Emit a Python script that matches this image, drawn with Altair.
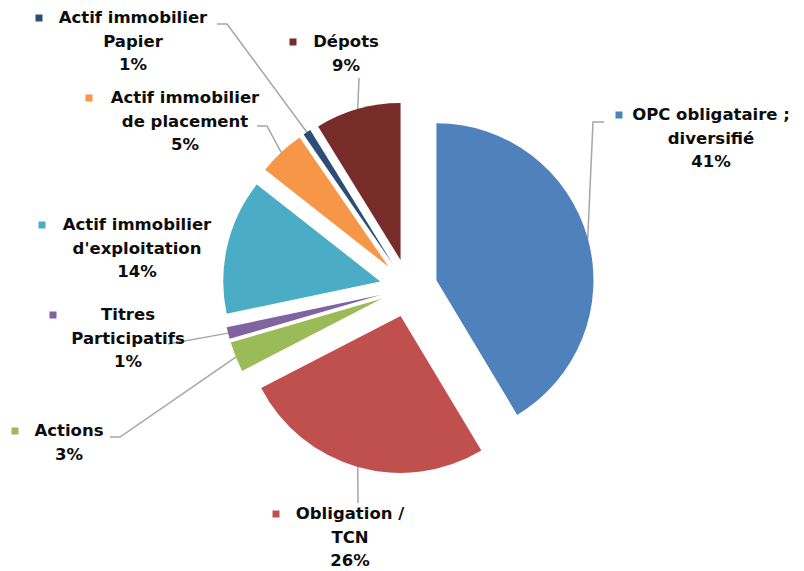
import altair as alt
import pandas as pd
import numpy as np

# ---------------- data ----------------
categories = [
    "OPC obligataire ; diversifié",
    "Obligation / TCN",
    "Actions",
    "Titres Participatifs",
    "Actif immobilier d'exploitation",
    "Actif immobilier de placement",
    "Actif immobilier Papier",
    "Dépots",
]
shares = [41.4, 26.0, 3.1, 1.2, 13.9, 4.8, 0.8, 8.8]
colors = ["#4F81BD", "#C0504D", "#9BBB59", "#8064A2", "#4BACC6", "#F79646", "#2C4D75", "#772C2A"]
label_lines = [
    ["OPC obligataire ;", "diversifié"],
    ["Obligation /", "TCN"],
    ["Actions"],
    ["Titres", "Participatifs"],
    ["Actif immobilier", "d'exploitation"],
    ["Actif immobilier", "de placement"],
    ["Actif immobilier", "Papier"],
    ["Dépots"],
]

# ---------------- layout (page pixel coordinates) ----------------
W, H, M = 788, 563, 8
PIE_CX, PIE_CY, R, EXPLODE = 408.5, 288.0, 157, 29
label_cx = [711, 350, 69, 128, 137, 185, 133, 346]
label_y0 = [115, 514, 431, 315, 225, 98, 18, 42]
marker_x = [619, 276, 15, 53, 42, 89, 39, 293]
leader_bends = [
    [(593, 122), (604, 122)],
    [(358, 503)],
    [(120, 437), (110, 437)],
    [(168, 344)],
    [],
    [(267, 126), (257, 126)],
    [(227, 24), (217, 24)],
    [(359, 78)],
]
LINE_H = 23.5

# ---------------- derived tables ----------------
vals = np.array(shares)
end = np.cumsum(vals)
start = end - vals
mid = (start + end) / 2 / 100 * 2 * np.pi
cx = PIE_CX + EXPLODE * np.sin(mid) - M
cy = PIE_CY - EXPLODE * np.cos(mid) - M

slices = pd.DataFrame({
    "category": categories, "value": vals, "start": start, "end": end,
    "cx": cx, "cy": cy,
})

rows = []
for i, cat in enumerate(categories):
    lines = label_lines[i] + [f"{round(shares[i]):.0f}%"]
    for j, t in enumerate(lines):
        rows.append({"category": cat, "text": t, "x": label_cx[i] - M,
                     "y": label_y0[i] + j * LINE_H - M})
labels = pd.DataFrame(rows)

markers = pd.DataFrame({"category": categories,
                        "x": [m - M for m in marker_x],
                        "y": [y - M for y in label_y0]})

lrows = []
for i, cat in enumerate(categories):
    if not leader_bends[i]:
        continue
    ex = cx[i] + R * np.sin(mid[i])
    ey = cy[i] - R * np.cos(mid[i])
    pts = [(ex, ey)] + [(px - M, py - M) for px, py in leader_bends[i]]
    for k, (px, py) in enumerate(pts):
        lrows.append({"category": cat, "seq": k, "x": px, "y": py})
leaders = pd.DataFrame(lrows)

color = alt.Color("category:N", scale=alt.Scale(domain=categories, range=colors), legend=None)

arcs = alt.Chart(slices).mark_arc(radius=R).encode(
    theta=alt.Theta("start:Q", scale=alt.Scale(domain=[0, 100], range=[0, 2 * np.pi]), stack=None),
    theta2="end:Q",
    x=alt.X("cx:Q", scale=None),
    y=alt.Y("cy:Q", scale=None),
    color=color,
)

lead = alt.Chart(leaders).mark_line(color="#A6A6A6", strokeWidth=1.5).encode(
    x=alt.X("x:Q", scale=None),
    y=alt.Y("y:Q", scale=None),
    detail="category:N",
    order="seq:Q",
)

text = alt.Chart(labels).mark_text(
    font="DejaVu Sans", fontWeight="bold", fontSize=16.5, align="center",
    baseline="middle", color="#0d0d0d",
).encode(
    x=alt.X("x:Q", scale=None),
    y=alt.Y("y:Q", scale=None),
    text="text:N",
)

squares = alt.Chart(markers).mark_square(size=49, opacity=1).encode(
    x=alt.X("x:Q", scale=None),
    y=alt.Y("y:Q", scale=None),
    color=color,
)

chart = alt.layer(lead, arcs, text, squares).properties(
    width=W, height=H, padding=0, autosize=alt.AutoSizeParams(type="none"),
).configure_view(stroke=None)

chart.save("out.html", embed_options={"renderer": "svg", "actions": False})
